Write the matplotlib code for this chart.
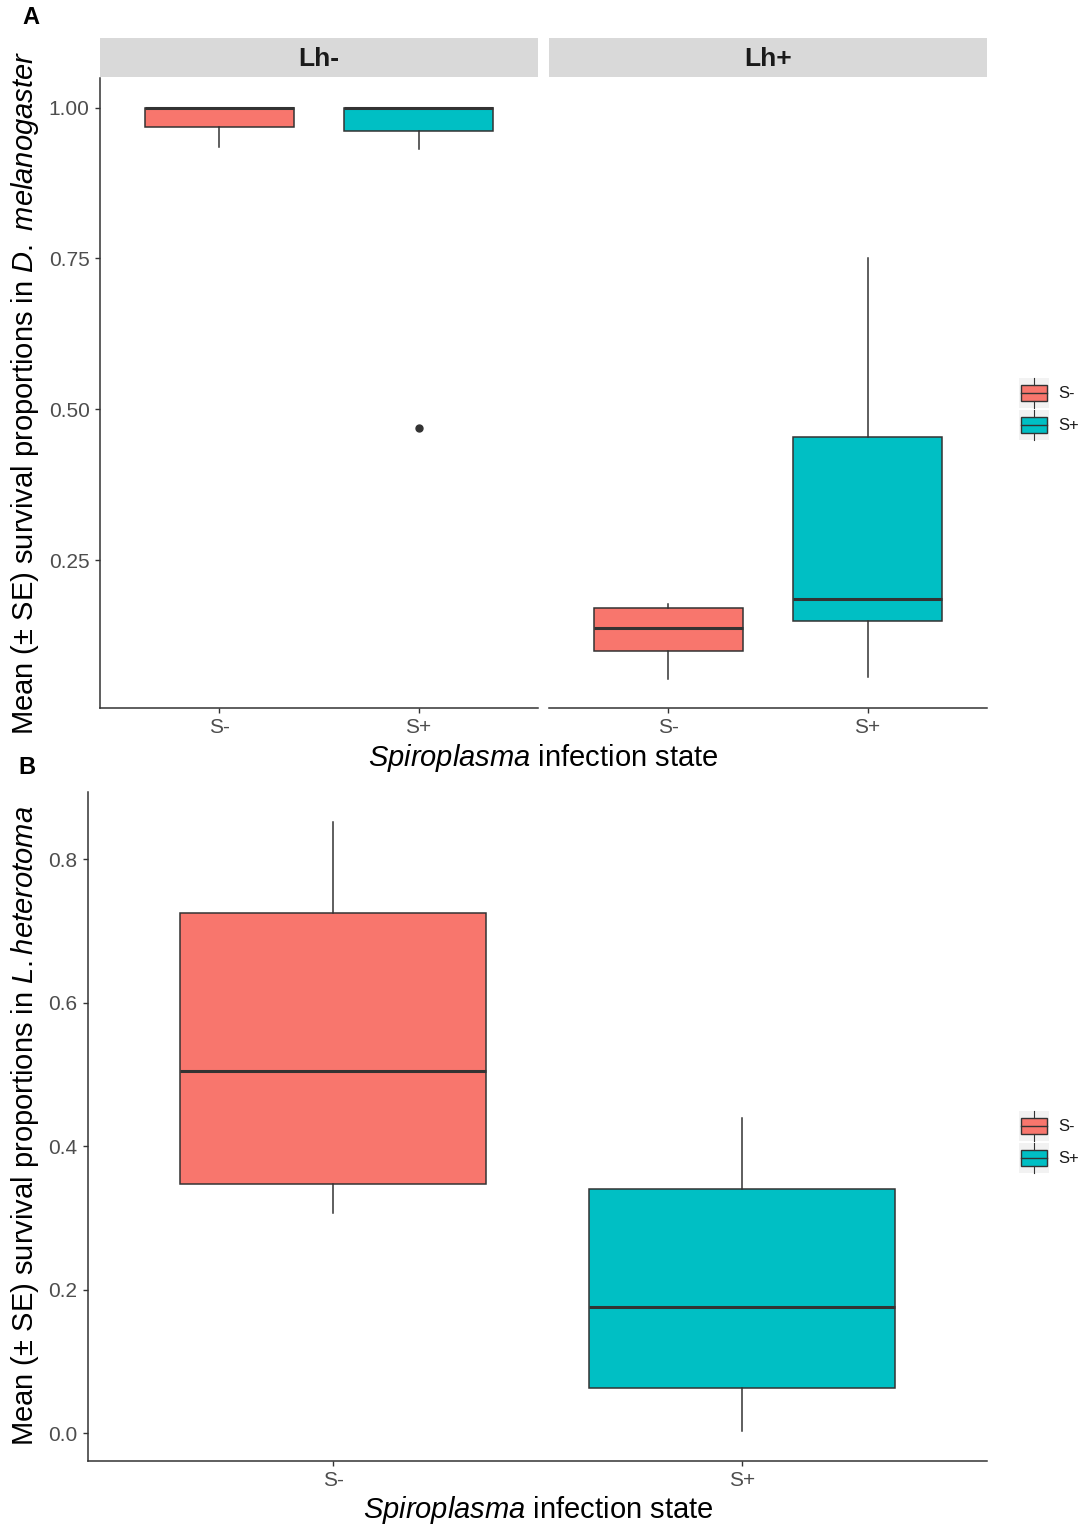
import numpy as np
import matplotlib
matplotlib.use("Agg")
import matplotlib.pyplot as plt
from matplotlib.patches import Rectangle
from matplotlib.lines import Line2D
from matplotlib.legend_handler import HandlerBase

plt.rcParams["font.family"] = ["Liberation Sans", "DejaVu Sans"]
plt.rcParams["mathtext.fontset"] = "custom"
plt.rcParams["mathtext.rm"] = "Liberation Sans"
plt.rcParams["mathtext.it"] = "Liberation Sans:italic"

# ---- box statistics (proportions) ----
STATES = ["S-", "S+"]
COLORS = ["#F8766D", "#00BFC4"]

# panel A: D. melanogaster survival, faceted by wasp (Lh) exposure
FACETS = ["Lh-", "Lh+"]
A_WHISLO = [[0.935, 0.932], [0.053, 0.056]]
A_Q1     = [[0.967, 0.962], [0.099, 0.150]]
A_MED    = [[1.000, 1.000], [0.137, 0.185]]
A_Q3     = [[1.000, 1.000], [0.170, 0.454]]
A_WHISHI = [[1.000, 1.000], [0.177, 0.751]]
A_FLIERS = [[[], [0.469]], [[], []]]
A_TICKS = [0.25, 0.50, 0.75, 1.00]

# panel B: L. heterotoma survival
B_WHISLO = [0.307, 0.003]
B_Q1     = [0.347, 0.063]
B_MED    = [0.505, 0.176]
B_Q3     = [0.725, 0.340]
B_WHISHI = [0.852, 0.440]
B_TICKS = [0.0, 0.2, 0.4, 0.6, 0.8]

DARK = "#333333"
TICKC = "#4D4D4D"
W, H = 1087, 1526
TITLE_FS = 21


def fbox(x0, y0, x1, y1):
    # pixel box (top-left origin) -> figure fraction rect
    return [x0 / W, 1 - y1 / H, (x1 - x0) / W, (y1 - y0) / H]


def draw_boxes(ax, whislo, q1, med, q3, whishi, fliers):
    stats = [dict(whislo=whislo[i], q1=q1[i], med=med[i], q3=q3[i],
                  whishi=whishi[i], fliers=fliers[i]) for i in range(len(STATES))]
    bp = ax.bxp(stats, positions=[1, 2], widths=0.75, patch_artist=True,
                showcaps=False,
                boxprops=dict(edgecolor=DARK, linewidth=1.1),
                medianprops=dict(color=DARK, linewidth=2.2),
                whiskerprops=dict(color=DARK, linewidth=1.1),
                flierprops=dict(marker="o", markersize=5, markerfacecolor=DARK,
                                markeredgecolor=DARK))
    for patch, c in zip(bp["boxes"], COLORS):
        patch.set_facecolor(c)
    ax.set_xlim(0.4, 2.6)
    ax.set_xticks([1, 2])
    ax.set_xticklabels(STATES)
    for s in ["top", "right"]:
        ax.spines[s].set_visible(False)
    for s in ["left", "bottom"]:
        ax.spines[s].set_color(DARK)
        ax.spines[s].set_linewidth(1.1)
    ax.tick_params(colors=DARK, labelcolor=TICKC, labelsize=15, length=3.5, width=1.0,
                   pad=4)


class BoxKey(HandlerBase):
    # legend key: grey square holding a small box-and-whisker glyph
    def create_artists(self, legend, orig_handle, xdescent, ydescent, width, height,
                       fontsize, trans):
        c = orig_handle.get_facecolor()
        x0, y0 = -xdescent, -ydescent
        bg = Rectangle((x0, y0), width, height, facecolor="#F2F2F2",
                       edgecolor="none", transform=trans)
        bx = Rectangle((x0 + 0.08 * width, y0 + 0.23 * height), 0.84 * width,
                       0.54 * height, facecolor=c, edgecolor=DARK, linewidth=1.0,
                       transform=trans)
        xm = x0 + 0.5 * width
        med = Line2D([x0 + 0.08 * width, x0 + 0.92 * width], [y0 + 0.5 * height] * 2,
                     color=DARK, linewidth=1.0, transform=trans)
        wl = Line2D([xm, xm], [y0, y0 + 0.23 * height], color=DARK,
                    linewidth=0.8, transform=trans)
        wh = Line2D([xm, xm], [y0 + 0.77 * height, y0 + height], color=DARK,
                    linewidth=0.8, transform=trans)
        return [bg, bx, med, wl, wh]


def add_legend(fig, ycenter):
    handles = [Rectangle((0, 0), 1, 1, facecolor=c) for c in COLORS]
    fig.legend(handles, STATES, handler_map={Rectangle: BoxKey()},
               loc="center left", bbox_to_anchor=(1019 / W, 1 - ycenter / H),
               frameon=False, fontsize=12, handlelength=1.8, handleheight=2.4,
               handletextpad=0.55, labelspacing=0.08, borderpad=0, borderaxespad=0,
               labelcolor="#1a1a1a")


fig = plt.figure(figsize=(W / 100, H / 100), dpi=100)

# ---- panel A: two facets ----
facet_px = [(100, 538), (549, 987)]
for j, (x0, x1) in enumerate(facet_px):
    ax = fig.add_axes(fbox(x0, 78, x1, 708))
    draw_boxes(ax, A_WHISLO[j], A_Q1[j], A_MED[j], A_Q3[j], A_WHISHI[j], A_FLIERS[j])
    ax.set_ylim(0.005, 1.049)
    ax.set_yticks(A_TICKS)
    ax.set_yticklabels(["%.2f" % t for t in A_TICKS])
    if j > 0:
        ax.spines["left"].set_visible(False)
        ax.tick_params(axis="y", left=False, labelleft=False)

    strip = fig.add_axes(fbox(x0, 38, x1, 77))
    strip.set_facecolor("#D9D9D9")
    strip.set_xticks([]); strip.set_yticks([])
    for s in strip.spines.values():
        s.set_visible(False)
    strip.text(0.5, 0.45, FACETS[j], ha="center", va="center", fontsize=19,
               fontweight="bold", color="#1a1a1a", transform=strip.transAxes)

fig.text(543 / W, 1 - 758 / H, r"$\mathit{Spiroplasma}$ infection state",
         ha="center", va="center", fontsize=TITLE_FS)
fig.text(25 / W, 1 - 393 / H,
         r"Mean (± SE) survival proportions in $\mathit{D.\ melanogaster}$",
         ha="center", va="center", rotation=90, fontsize=TITLE_FS)
fig.text(31 / W, 1 - 18 / H, "A", ha="center", va="center", fontsize=17,
         fontweight="bold")
add_legend(fig, 409)

# ---- panel B ----
axb = fig.add_axes(fbox(88, 792, 987, 1461))
draw_boxes(axb, B_WHISLO, B_Q1, B_MED, B_Q3, B_WHISHI, [[], []])
axb.set_ylim(-0.039, 0.894)
axb.set_yticks(B_TICKS)
axb.set_yticklabels(["%.1f" % t for t in B_TICKS])

fig.text(538 / W, 1 - 1510 / H, r"$\mathit{Spiroplasma}$ infection state",
         ha="center", va="center", fontsize=TITLE_FS)
fig.text(25 / W, 1 - 1126 / H,
         r"Mean (± SE) survival proportions in $\mathit{L.heterotoma}$",
         ha="center", va="center", rotation=90, fontsize=TITLE_FS)
fig.text(27 / W, 1 - 768 / H, "B", ha="center", va="center", fontsize=17,
         fontweight="bold")
add_legend(fig, 1142)

fig.savefig("out.png", dpi=100)
